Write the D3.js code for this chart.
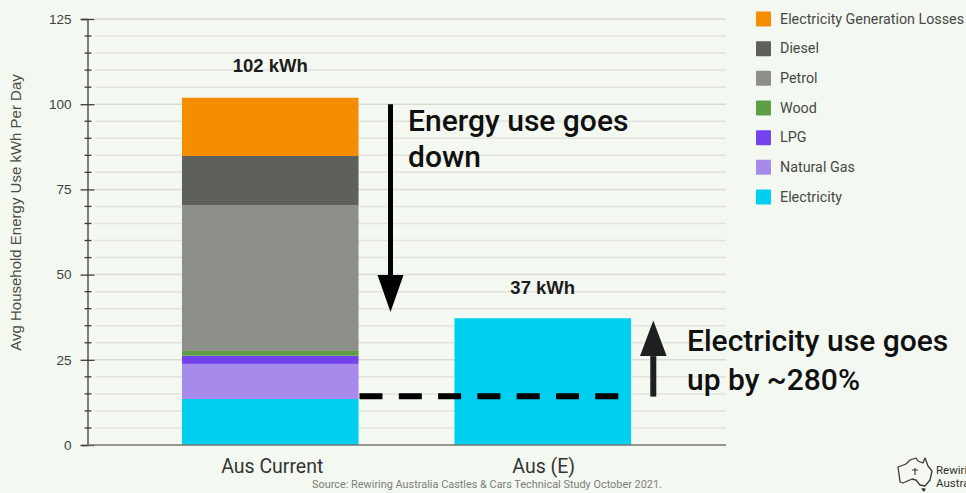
<!DOCTYPE html>
<html>
<head>
<meta charset="utf-8">
<script src="https://cdn.jsdelivr.net/npm/d3@7"></script>
<style>
  html, body { margin: 0; padding: 0; background: #f3f8f0; overflow: hidden; }
  svg { display: block; }
</style>
</head>
<body>
<svg id="chart" width="966" height="493"></svg>
<script>
// Household energy use by fuel, current mix against full electrification
const categories = ["Aus Current", "Aus (E)"];
const fuels = ["Electricity", "Natural Gas", "LPG", "Wood", "Petrol", "Diesel", "Electricity Generation Losses"];
const ausCurrent = [13.5, 10.3, 2.4, 1.4, 42.7, 14.5, 17.1];
const ausElectrified = [37.2, 0, 0, 0, 0, 0, 0];
const fuelColors = ["#00cfef", "#a78bea", "#7443ee", "#5f9e47", "#8d8f8a", "#5e605c", "#f48d00"];
const totalLabels = ["102 kWh", "37 kWh"];
const majorTicks = [0, 25, 50, 75, 100, 125];
const minorTicks = [5, 10, 15, 20, 30, 35, 40, 45, 55, 60, 65, 70, 80, 85, 90, 95, 105, 110, 115, 120];
const dashLevel = 14.3;
const downArrow = [100, 39];
const upArrow = [14.2, 36.5];
const calloutDown = ["Energy use goes", "down"];
const calloutUp = ["Electricity use goes", "up by ~280%"];
const axisTitle = "Avg Household Energy Use kWh Per Day";
const sourceNote = "Source: Rewiring Australia Castles & Cars Technical Study October 2021.";

const svg = d3.select("#chart");
const sans = "'Liberation Sans', Arial, sans-serif";
const roboto = "Roboto, sans-serif";

const y = d3.scaleLinear().domain([0, 125]).range([445, 19]);
const x = d3.scaleBand().domain(categories).range([87, 726]).paddingInner(0.352).paddingOuter(0.3485);
// Horizontal positions for the annotations, in the same pixel space as the band scale
const px = d3.scaleLinear().domain([0, 966]).range([0, 966]);

// Gridlines
const grid = svg.append("g");
grid.selectAll("line")
  .data(majorTicks.concat(minorTicks).filter(d => d !== 0))
  .join("line")
  .attr("x1", 95).attr("x2", 726)
  .attr("y1", d => y(d)).attr("y2", d => y(d))
  .attr("stroke", d => majorTicks.includes(d) ? "#d9dbd7" : "#e1e4de")
  .attr("stroke-width", 1.5);

// Stacked bars
const rows = [ausCurrent, ausElectrified];
const stackData = categories.map((c, i) => {
  const o = { category: c };
  fuels.forEach((f, j) => { o[f] = rows[i][j]; });
  return o;
});
const series = d3.stack().keys(fuels)(stackData);
svg.append("g").selectAll("g")
  .data(series)
  .join("g")
  .attr("fill", (d, i) => fuelColors[i])
  .selectAll("rect")
  .data(d => d)
  .join("rect")
  .attr("x", d => x(d.data.category))
  .attr("width", x.bandwidth())
  .attr("y", d => y(d[1]))
  .attr("height", d => y(d[0]) - y(d[1]));

// Left axis with major and minor ticks
const axisGroup = svg.append("g").attr("transform", "translate(87.5,0)");
const leftAxis = d3.axisLeft(y).tickValues(majorTicks).tickSize(6).tickPadding(10);
axisGroup.call(leftAxis);
axisGroup.select(".domain").attr("stroke", "#3c3e3a").attr("stroke-width", 1.3);
axisGroup.selectAll(".tick text")
  .attr("font-family", sans).attr("font-size", 13.5).attr("fill", "#3f413d");
axisGroup.selectAll(".tick line").attr("x2", 7).attr("x1", -7).attr("stroke", "#3c3e3a").attr("stroke-width", 1.3);
axisGroup.append("g").selectAll("line")
  .data(minorTicks)
  .join("line")
  .attr("x1", -3).attr("x2", 4)
  .attr("y1", d => y(d)).attr("y2", d => y(d))
  .attr("stroke", "#3c3e3a").attr("stroke-width", 1.3);

// Baseline and category labels
svg.append("line")
  .attr("x1", 87).attr("x2", 726).attr("y1", y(0)).attr("y2", y(0))
  .attr("stroke", "#757672").attr("stroke-width", 1.6);
svg.append("g").selectAll("text")
  .data(categories)
  .join("text")
  .attr("x", (d, i) => x(d) + x.bandwidth() / 2 + (i === 0 ? 2 : 1))
  .attr("y", 473)
  .attr("text-anchor", "middle")
  .attr("font-family", roboto).attr("font-size", 19.5).attr("fill", "#333431")
  .text(d => d);

// Bar totals
svg.append("g").selectAll("text")
  .data(totalLabels)
  .join("text")
  .attr("x", (d, i) => x(categories[i]) + x.bandwidth() / 2)
  .attr("y", (d, i) => i === 0 ? 72 : 294)
  .attr("text-anchor", "middle")
  .attr("font-family", sans).attr("font-weight", 700).attr("font-size", 18.5).attr("fill", "#1c1c1c")
  .text(d => d);

// Axis title
svg.append("text")
  .attr("transform", "translate(20.5,212.5) rotate(-90)")
  .attr("text-anchor", "middle")
  .attr("font-family", sans).attr("font-size", 15).attr("fill", "#4a4c48")
  .text(axisTitle);

// Legend, top entry first
const legendOrder = fuels.map((f, i) => ({ name: f, color: fuelColors[i] })).reverse();
const legendY = d3.scalePoint().domain(legendOrder.map(d => d.name)).range([19, 197]);
const legend = svg.append("g").selectAll("g")
  .data(legendOrder)
  .join("g")
  .attr("transform", d => `translate(756,${legendY(d.name)})`);
legend.append("rect")
  .attr("x", 0).attr("y", -7.5).attr("width", 15).attr("height", 15).attr("rx", 1)
  .attr("fill", d => d.color);
legend.append("text")
  .attr("x", 24).attr("y", 4.7)
  .attr("font-family", roboto).attr("font-size", 14.3).attr("fill", "#474845")
  .text(d => d.name);

// Vertical arrows with filled heads
function arrow(xPos, fromVal, toVal, headHalf, headLen, color, width) {
  const dir = y(toVal) > y(fromVal) ? 1 : -1;
  const tip = y(toVal);
  const base = tip - dir * headLen;
  svg.append("line")
    .attr("x1", px(xPos)).attr("x2", px(xPos))
    .attr("y1", y(fromVal)).attr("y2", base)
    .attr("stroke", color).attr("stroke-width", width);
  svg.append("path")
    .attr("d", d3.line()([[px(xPos) - headHalf, base], [px(xPos) + headHalf, base], [px(xPos), tip]]) + "Z")
    .attr("fill", color);
}
arrow(390.5, downArrow[0], downArrow[1], 13, 37, "#000000", 5);
arrow(653.3, upArrow[0], upArrow[1], 13.3, 35.5, "#1f1f1f", 6);

// Dashed reference level
svg.append("line")
  .attr("x1", 359.5).attr("x2", 619)
  .attr("y1", y(dashLevel)).attr("y2", y(dashLevel))
  .attr("stroke", "#000000").attr("stroke-width", 6)
  .attr("stroke-dasharray", "23 16.3");

// Callouts
function callout(lines, xPos, baselines) {
  svg.append("g").selectAll("text")
    .data(lines)
    .join("text")
    .attr("x", xPos)
    .attr("y", (d, i) => baselines[i])
    .attr("font-family", roboto).attr("font-weight", 500).attr("font-size", 30).attr("fill", "#101010")
    .text(d => d);
}
callout(calloutDown, 408, [131, 167]);
callout(calloutUp, 687, [351, 390]);

// Source note
svg.append("text")
  .attr("x", 312).attr("y", 488)
  .attr("font-family", roboto).attr("font-size", 10.9).attr("fill", "#7d7e7b")
  .text(sourceNote);

// Organisation mark, running off the right edge
const mark = svg.append("g").attr("transform", "translate(897,458)");
mark.append("path")
  .attr("d", "M2,16 L1,9 L9,6 L13,2 L19,0 L21,3 L26,5 L28,0 L31,8 L35,13 L33,22 L28,28 L23,27 L19,22 L15,21 L6,25 L3,24 Z M25,31 L28,31 L27,33 Z")
  .attr("fill", "none").attr("stroke", "#3a3a3a").attr("stroke-width", 1.3).attr("stroke-linejoin", "round");
mark.append("path")
  .attr("d", "M18,17 V10 M15,12 H21")
  .attr("fill", "none").attr("stroke", "#3a3a3a").attr("stroke-width", 1.1);
mark.selectAll("text.name")
  .data(["Rewiring", "Australia"])
  .join("text")
  .attr("x", 39)
  .attr("y", (d, i) => 15.5 + i * 13.5)
  .attr("font-family", roboto).attr("font-size", 11.5).attr("fill", "#333333")
  .text(d => d);
</script>
</body>
</html>
